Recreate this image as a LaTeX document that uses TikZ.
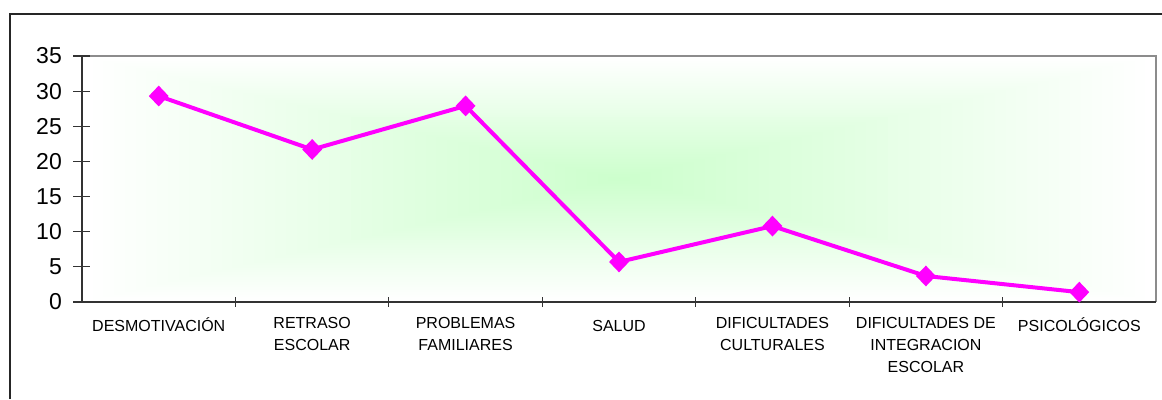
\documentclass[tikz,border=0pt]{standalone}
\usepackage{fontspec}
\setmainfont{Liberation Sans}
\usetikzlibrary{shapes.geometric}
\definecolor{areagreen}{RGB}{204,255,204}
\definecolor{linemag}{RGB}{255,0,255}
\tikzset{datapt/.style={diamond, fill=linemag, inner sep=0pt, minimum width=20pt, minimum height=21pt},
  catlabel/.style={align=center, anchor=north, inner sep=0pt, font=\fontsize{16}{22}\selectfont,
    execute at begin node=\vphantom{Ó}},
  vallabel/.style={anchor=east, inner sep=0pt, font=\fontsize{23}{26}\selectfont}}

\begin{document}
\begin{tikzpicture}[x=1pt,y=1pt]
\useasboundingbox (0,0) rectangle (1162,399);
\draw[line width=1.4pt, black!85] (10,0) -- (10,385) -- (1162,385);

\foreach \i in {0,...,50}{
  \pgfmathsetmacro\t{1-\i/50}
  \pgfmathtruncatemacro\pc{2*\i}
  \fill[areagreen!\pc!white] (619-537*\t,220-123*\t) rectangle (619+537*\t,220+123*\t);
}

\draw[line width=1.5pt, black!45] (82,343) -- (1156,343) -- (1156,97);
\draw[line width=1.5pt, black!80] (82,343) -- (82,97) -- (1156,97);
\foreach \v in {0,5,...,35}{
  \draw[line width=1.2pt, black!80] (73,97+\v*7.029) -- (90,97+\v*7.029);
  \node[vallabel] (y\v) at (62,97+\v*7.029) {\v};
}
\foreach \k in {1,...,6}
  \draw[line width=1.2pt, black!80] (82+\k*153.43,92) -- (82+\k*153.43,102);

\foreach \v [count=\k] in {29.3,21.7,27.9,5.7,10.8,3.7,1.4}
  \coordinate (p\k) at (82+\k*153.43-76.7,97+\v*7.029);
\draw[linemag, line width=4pt, line join=round] (p1) -- (p2) -- (p3) -- (p4) -- (p5) -- (p6) -- (p7);
\foreach \k in {1,...,7}
  \node[datapt] (d\k) at (p\k) {};

\foreach \name [count=\k] in {DESMOTIVACIÓN, {RETRASO\\ESCOLAR}, {PROBLEMAS\\FAMILIARES}, SALUD,
    {DIFICULTADES\\CULTURALES}, {DIFICULTADES DE\\INTEGRACION\\ESCOLAR}, PSICOLÓGICOS}
  \node[catlabel] (c\k) at (82+\k*153.43-76.7,82) {\name};
\end{tikzpicture}
\end{document}
